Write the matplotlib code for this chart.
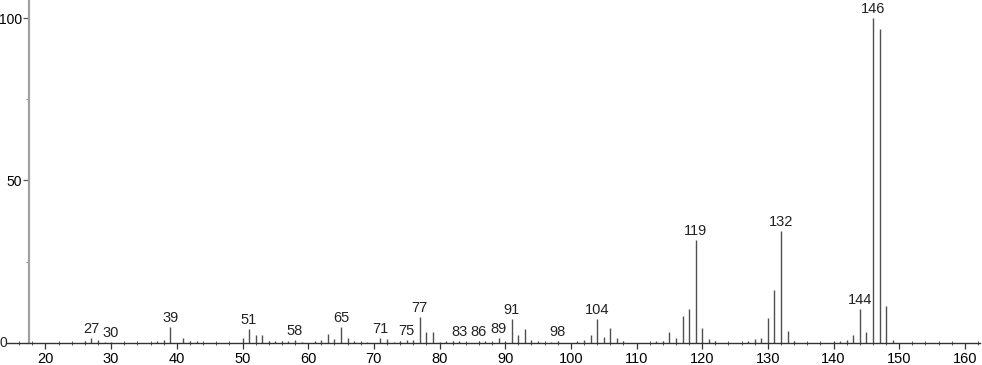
import matplotlib.pyplot as plt
from matplotlib.ticker import MultipleLocator

# m/z values and relative intensities
mz = [26, 27, 28, 29, 30,
      37, 38, 39, 41, 42, 43,
      50, 51, 52, 53, 54, 55, 56, 57, 58, 59,
      61, 62, 63, 64, 65, 66, 67, 68, 69,
      71, 72, 73, 74, 75, 76, 77, 78, 79, 80,
      81, 82, 83, 84, 86, 87, 88, 89, 90,
      91, 92, 93, 94, 95, 97, 98,
      101, 102, 103, 104, 105, 106, 107, 108,
      113, 114, 115, 116, 117, 118, 119, 120, 121, 122,
      127, 128, 129, 130, 131, 132, 133, 134,
      140, 141, 142, 143, 144, 145, 146, 147, 148, 149]
intensity = [0.5, 1.3, 0.7, 0.3, 0.3,
             0.5, 0.7, 4.7, 1.6, 0.5, 0.5,
             1.3, 4.3, 2.4, 2.4, 0.5, 0.5, 0.4, 0.4, 0.7, 0.3,
             0.5, 0.7, 2.6, 1.0, 4.8, 1.5, 0.6, 0.3, 0.3,
             1.3, 1.0, 0.3, 0.4, 0.7, 0.7, 8.0, 3.4, 3.4, 0.3,
             0.5, 0.6, 0.4, 0.3, 0.5, 0.5, 0.3, 1.5, 0.4,
             7.3, 2.4, 4.3, 0.7, 0.4, 0.2, 0.4,
             0.5, 0.7, 2.4, 7.3, 1.8, 4.4, 1.3, 0.6,
             0.5, 0.5, 3.4, 1.4, 8.2, 10.4, 31.7, 4.4, 1.0, 0.5,
             0.5, 1.2, 1.4, 7.6, 16.2, 34.4, 3.7, 0.5,
             0.5, 0.5, 0.8, 2.4, 10.3, 3.4, 100.0, 96.6, 11.3, 0.7]

labelled = [27, 30, 39, 51, 58, 65, 71, 75, 77, 83, 86, 89, 91, 98,
            104, 119, 132, 144, 146]

plt.rcParams['font.family'] = ['Liberation Sans', 'DejaVu Sans']

fig = plt.figure(figsize=(9.82, 3.65), dpi=100)
ax = fig.add_axes([7/982, 22.3/365, 973/982, 342.7/365])

ax.vlines(mz, 0, intensity, colors='#505050', linewidth=1.0)

for m in labelled:
    h = intensity[mz.index(m)]
    ax.annotate(str(m), (m, h), xytext=(0, 1.5), textcoords='offset points',
                ha='center', va='bottom', fontsize=10.5, color='#222222')

ax.set_xlim(14.14, 162.3)
ax.set_ylim(0, 105.6)

ax.spines['top'].set_visible(False)
ax.spines['right'].set_visible(False)
ax.spines['left'].set_position(('data', 17.5))
ax.spines['left'].set_color('#a0a0a0')
ax.spines['left'].set_linewidth(1.6)
ax.spines['bottom'].set_color('#333333')
ax.spines['bottom'].set_linewidth(1.0)

ax.set_xticks(range(20, 161, 10))
ax.xaxis.set_minor_locator(MultipleLocator(2))
ax.tick_params(axis='x', which='major', direction='out', length=4.5, width=0.9,
               color='#333333', labelsize=10.5, pad=2)
ax.tick_params(axis='x', which='minor', direction='inout', length=3, width=0.7,
               color='#555555')

ax.set_yticks([50, 100])
ax.yaxis.set_minor_locator(MultipleLocator(25))
ax.tick_params(axis='y', which='major', direction='out', length=4.5, width=0.9,
               color='#555555', labelsize=10, pad=0.5)
ax.tick_params(axis='y', which='minor', direction='out', length=2, width=0.7,
               color='#888888')
ax.text(14.14, 0, '0', ha='right', va='center', fontsize=10, color='#222222')

fig.savefig('out.png', dpi=100)
